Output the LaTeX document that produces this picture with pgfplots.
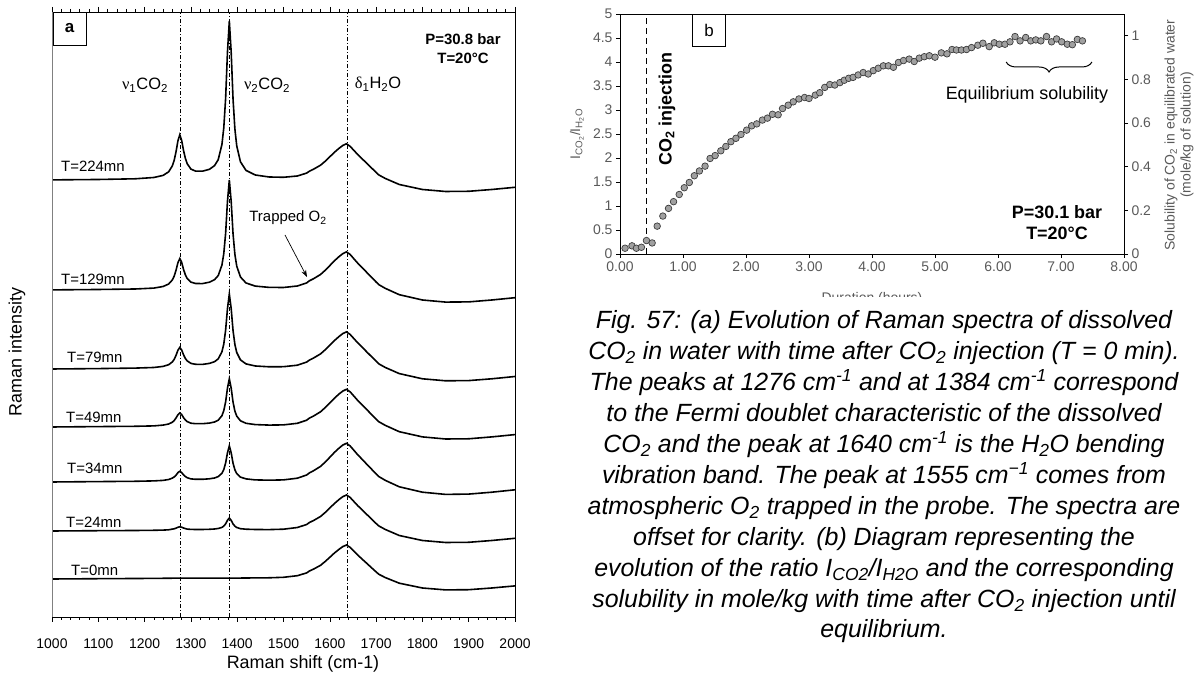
\documentclass[border=0pt]{standalone}
\usepackage{pgfplots}
\pgfplotsset{compat=1.18}
\usepackage{fontspec}
\setmainfont{Liberation Sans}
\newfontfamily\greekfont{Liberation Serif}
\usetikzlibrary{decorations.pathreplacing,arrows.meta}
\definecolor{tickgray}{RGB}{89,89,89}
\definecolor{ptfill}{RGB}{160,160,160}
\definecolor{ptdraw}{RGB}{60,60,60}
\newcommand{\fs}[1]{\fontsize{#1}{#1}\selectfont}
\begin{document}
\begin{tikzpicture}[x=1bp,y=1bp]
\useasboundingbox (0,0) rectangle (1198,678);

%================ Panel a =================
\begin{axis}[at={(52bp,61bp)}, anchor=south west, scale only axis,
  width=463bp, height=605bp,
  xmin=1000, xmax=2000, ymin=0, ymax=605,
  xtick={1000,1100,...,2000}, minor x tick num=4, ytick=\empty,
  tick align=outside, xtick pos=both, xticklabel pos=lower,
  major tick length=5bp, minor tick length=3bp,
  /pgf/number format/1000 sep={}, /pgf/number format/assume math mode=true,
  xticklabel style={font=\fs{14}, yshift=-13bp},
  axis line style={black, line width=0.8bp},
  tick style={black, line width=0.6bp}]
\draw[black, line width=0.7bp, dash pattern=on 4bp off 2bp on 1bp off 2bp] (axis cs:1277,0) -- (axis cs:1277,605);
\draw[black, line width=0.7bp, dash pattern=on 4bp off 2bp on 1bp off 2bp] (axis cs:1382,0) -- (axis cs:1382,605);
\draw[black, line width=0.7bp, dash pattern=on 4bp off 2bp on 1bp off 2bp] (axis cs:1638,0) -- (axis cs:1638,605);
% T=224
\addplot[black, line width=1.6bp] coordinates {(1000,437.1)(1100,437.5)(1180,438.2)(1220,439.5)(1240,441.6)(1252,445.2)(1260,451.2)(1264,456.9)(1268,465.5)(1272,476.2)(1276,482.2)(1280,476.7)(1284,466.7)(1288,458.7)(1292,453.3)(1300,447.9)(1310,445.9)(1325,445.8)(1340,447.7)(1351,451.3)(1359,457.3)(1367,472.5)(1371,489.1)(1375,518.7)(1379,565.1)(1383,596.0)(1387,564.8)(1391,518.0)(1395,488.0)(1399,471.1)(1407,455.2)(1419,446.6)(1439,442.0)(1469,440.0)(1500,439.7)(1530,441.0)(1550,443.9)(1556,445.8)(1565,447.8)(1580,451.8)(1590,455.7)(1600,460.2)(1610,464.7)(1620,468.7)(1628,471.5)(1636,473.2)(1644,470.6)(1652,466.6)(1660,462.6)(1670,458.1)(1680,453.6)(1690,449.1)(1700,444.6)(1706,442.0)(1720,438.5)(1750,432.5)(1800,427.5)(1850,425.5)(1900,425.7)(1950,427.5)(2000,429.7)};
% T=129
\addplot[black, line width=1.6bp] coordinates {(1000,327.1)(1100,327.5)(1180,328.0)(1220,328.9)(1240,330.5)(1252,333.0)(1260,337.1)(1264,341.0)(1268,346.9)(1272,354.3)(1276,358.4)(1280,354.7)(1284,347.7)(1288,342.2)(1292,338.5)(1300,334.9)(1310,333.5)(1325,333.4)(1340,334.8)(1351,337.3)(1359,341.4)(1367,351.9)(1371,363.3)(1375,383.7)(1379,415.7)(1383,437.0)(1387,415.5)(1391,383.3)(1395,362.6)(1399,350.9)(1407,340.0)(1419,334.0)(1439,330.9)(1469,329.6)(1500,329.5)(1530,331.0)(1550,334.1)(1556,336.2)(1565,338.3)(1580,342.5)(1590,346.7)(1600,351.4)(1610,356.2)(1620,360.4)(1628,363.3)(1636,365.1)(1644,362.5)(1652,358.2)(1660,354.0)(1670,349.3)(1680,344.5)(1690,339.7)(1700,335.0)(1706,332.3)(1720,328.6)(1750,322.3)(1800,317.0)(1850,314.9)(1900,315.1)(1950,317.0)(2000,319.3)};
% T=79
\addplot[black, line width=1.6bp] coordinates {(1000,248.0)(1100,248.4)(1180,248.9)(1220,249.5)(1240,250.6)(1252,252.3)(1260,255.1)(1264,257.7)(1268,261.8)(1272,266.8)(1276,269.6)(1280,267.0)(1284,262.3)(1288,258.5)(1292,256.1)(1300,253.6)(1310,252.7)(1325,252.6)(1340,253.6)(1351,255.3)(1359,258.1)(1367,265.2)(1371,272.9)(1375,286.8)(1379,308.5)(1383,323.0)(1387,308.4)(1391,286.5)(1395,272.5)(1399,264.5)(1407,257.1)(1419,253.1)(1439,251.0)(1469,250.2)(1500,250.3)(1530,251.8)(1550,254.9)(1556,256.9)(1565,259.0)(1580,263.1)(1590,267.2)(1600,271.8)(1610,276.4)(1620,280.5)(1628,283.4)(1636,285.1)(1644,282.5)(1652,278.4)(1660,274.3)(1670,269.7)(1680,265.0)(1690,260.4)(1700,255.8)(1706,253.1)(1720,249.5)(1750,243.4)(1800,238.2)(1850,236.2)(1900,236.4)(1950,238.2)(2000,240.5)};
% T=49
\addplot[black, line width=1.6bp] coordinates {(1000,190.0)(1100,190.4)(1180,190.7)(1220,191.1)(1240,191.9)(1252,193.0)(1260,194.8)(1264,196.5)(1268,199.1)(1272,202.3)(1276,204.0)(1280,202.5)(1284,199.4)(1288,197.0)(1292,195.4)(1300,193.8)(1310,193.3)(1325,193.3)(1340,193.9)(1351,195.0)(1359,196.8)(1367,201.3)(1371,206.3)(1375,215.1)(1379,228.9)(1383,238.1)(1387,228.8)(1391,214.9)(1395,205.9)(1399,200.9)(1407,196.2)(1419,193.7)(1439,192.4)(1469,191.9)(1500,192.1)(1530,193.7)(1550,196.8)(1556,198.9)(1565,201.0)(1580,205.2)(1590,209.4)(1600,214.1)(1610,218.8)(1620,223.0)(1628,225.9)(1636,227.7)(1644,225.1)(1652,220.9)(1660,216.7)(1670,212.0)(1680,207.3)(1690,202.6)(1700,197.9)(1706,195.2)(1720,191.6)(1750,185.3)(1800,180.1)(1850,178.0)(1900,178.2)(1950,180.1)(2000,182.4)};
% T=34
\addplot[black, line width=1.6bp] coordinates {(1000,135.0)(1100,135.4)(1180,135.7)(1220,136.1)(1240,136.6)(1252,137.5)(1260,138.9)(1264,140.1)(1268,141.9)(1272,144.4)(1276,145.7)(1280,144.5)(1284,142.2)(1288,140.5)(1292,139.3)(1300,138.1)(1310,137.7)(1325,137.7)(1340,138.2)(1351,139.0)(1359,140.4)(1367,143.7)(1371,147.4)(1375,154.0)(1379,164.2)(1383,171.1)(1387,164.2)(1391,153.8)(1395,147.2)(1399,143.4)(1407,139.9)(1419,138.1)(1439,137.1)(1469,136.8)(1500,137.1)(1530,138.8)(1550,142.0)(1556,144.1)(1565,146.3)(1580,150.6)(1590,154.9)(1600,159.7)(1610,164.6)(1620,168.9)(1628,171.9)(1636,173.7)(1644,171.0)(1652,166.7)(1660,162.4)(1670,157.6)(1680,152.7)(1690,147.9)(1700,143.1)(1706,140.4)(1720,136.6)(1750,130.2)(1800,124.8)(1850,122.6)(1900,122.9)(1950,124.8)(2000,127.2)};
% T=24
\addplot[black, line width=1.6bp] coordinates {(1000,86.0)(1100,86.3)(1180,86.5)(1220,86.7)(1240,86.9)(1252,87.2)(1260,87.9)(1264,88.2)(1268,88.9)(1272,89.7)(1276,90.2)(1280,89.8)(1284,89.0)(1288,88.4)(1292,87.9)(1300,87.6)(1310,87.5)(1325,87.5)(1340,87.7)(1351,88.0)(1359,88.5)(1367,89.6)(1371,90.9)(1375,93.1)(1379,96.7)(1383,99.0)(1387,96.6)(1391,93.1)(1395,90.8)(1399,89.5)(1407,88.3)(1419,87.8)(1439,87.5)(1469,87.4)(1500,87.8)(1530,89.5)(1550,92.5)(1556,94.5)(1565,96.5)(1580,100.5)(1590,104.5)(1600,109.0)(1610,113.5)(1620,117.5)(1628,120.3)(1636,122.0)(1644,119.5)(1652,115.5)(1660,111.5)(1670,107.0)(1680,102.5)(1690,98.0)(1700,93.5)(1706,91.0)(1720,87.5)(1750,81.5)(1800,76.5)(1850,74.5)(1900,74.7)(1950,76.5)(2000,78.7)};
% T=0
\addplot[black, line width=1.6bp] coordinates {(1000,38.0)(1100,38.3)(1180,38.5)(1220,38.6)(1260,38.8)(1300,38.8)(1340,38.9)(1400,38.9)(1439,39.1)(1469,39.2)(1500,39.7)(1530,41.3)(1550,44.1)(1556,46.0)(1565,47.9)(1580,51.7)(1590,55.5)(1600,59.7)(1610,64.0)(1620,67.7)(1628,70.4)(1636,72.0)(1644,69.6)(1652,65.9)(1660,62.1)(1670,57.8)(1680,53.6)(1690,49.3)(1700,45.1)(1706,42.7)(1720,39.4)(1750,33.8)(1800,29.0)(1850,27.1)(1900,27.3)(1950,29.0)(2000,31.1)};
\draw[gray, line width=1.3bp] (rel axis cs:0,0) -- (rel axis cs:0,1);
\end{axis}

% panel a annotations
\node[draw, line width=0.8bp, fill=white, minimum width=33bp, minimum height=33bp, inner sep=0pt, font=\bfseries\fs{17}] at (69.5,649.5) {a};
\node[font=\bfseries\fs{15}] at (463,639) {P=30.8 bar};
\node[font=\bfseries\fs{15}] at (463,620) {T=20°C};
\node[font=\fs{16.5}] at (145,593) {{\greekfont ν}\textsubscript{1}CO\textsubscript{2}};
\node[font=\fs{16.5}] at (267,593) {{\greekfont ν}\textsubscript{2}CO\textsubscript{2}};
\node[font=\fs{16.5}] at (378,594) {{\greekfont δ}\textsubscript{1}H\textsubscript{2}O};
\node[anchor=west, inner sep=0pt, font=\fs{15}] at (61,512) {T=224mn};
\node[anchor=west, inner sep=0pt, font=\fs{15}] at (61,399) {T=129mn};
\node[anchor=west, inner sep=0pt, font=\fs{15}] at (67,321) {T=79mn};
\node[anchor=west, inner sep=0pt, font=\fs{15}] at (66,261) {T=49mn};
\node[anchor=west, inner sep=0pt, font=\fs{15}] at (67,210) {T=34mn};
\node[anchor=west, inner sep=0pt, font=\fs{15}] at (66,156) {T=24mn};
\node[anchor=west, inner sep=0pt, font=\fs{15}] at (71,108) {T=0mn};
\node[font=\fs{15}] at (288,460) {Trapped O\textsubscript{2}};
\draw[-{Stealth[length=7bp,width=5bp]}, line width=0.7bp] (285,443) -- (307,401);
\node[rotate=90, font=\fs{18}] at (17,326) {Raman intensity};
\node[font=\fs{18}] at (303,14) {Raman shift (cm-1)};

%================ Panel b =================
\begin{axis}[at={(620bp,424bp)}, anchor=south west, scale only axis,
  width=504bp, height=240bp,
  xmin=0, xmax=8, ymin=0, ymax=5,
  xtick={0,1,...,8}, ytick={0,0.5,...,5},
  xtick pos=bottom, ytick pos=left, tick align=outside,
  major tick length=4bp,
  /pgf/number format/assume math mode=true,
  xticklabel={\pgfmathprintnumber[fixed,fixed zerofill,precision=2]{\tick}},
  ticklabel style={font=\fs{14}, text=tickgray},
  axis line style={black, line width=0.9bp},
  tick style={black, line width=0.7bp}]
\draw[black, line width=1.3bp, dash pattern=on 6bp off 4bp] (axis cs:0.42,0) -- (axis cs:0.42,5);
\addplot[only marks, mark=*, mark size=3.3bp, mark options={fill=ptfill, draw=ptdraw, line width=0.7bp}] coordinates {(0.08,0.12)(0.19,0.17)(0.26,0.12)(0.34,0.14)(0.42,0.28)(0.51,0.23)(0.59,0.58)(0.68,0.79)(0.77,0.95)(0.85,1.09)(0.94,1.24)(1.02,1.38)(1.10,1.49)(1.18,1.63)(1.26,1.73)(1.35,1.83)(1.43,1.99)(1.51,2.05)(1.60,2.15)(1.68,2.24)(1.76,2.34)(1.84,2.41)(1.92,2.49)(2.01,2.58)(2.09,2.67)(2.17,2.71)(2.26,2.79)(2.34,2.83)(2.42,2.91)(2.51,2.90)(2.58,3.03)(2.67,3.10)(2.75,3.17)(2.84,3.23)(2.93,3.26)(3.00,3.24)(3.10,3.31)(3.17,3.36)(3.25,3.47)(3.33,3.53)(3.41,3.52)(3.49,3.57)(3.56,3.62)(3.63,3.66)(3.70,3.68)(3.78,3.73)(3.86,3.78)(3.94,3.75)(4.02,3.82)(4.10,3.87)(4.18,3.92)(4.26,3.92)(4.34,3.89)(4.42,3.99)(4.50,4.03)(4.59,4.06)(4.67,4.01)(4.75,4.08)(4.83,4.11)(4.91,4.13)(5.00,4.10)(5.10,4.19)(5.19,4.17)(5.27,4.26)(5.34,4.25)(5.42,4.25)(5.50,4.26)(5.58,4.30)(5.68,4.35)(5.76,4.39)(5.86,4.32)(5.94,4.40)(6.02,4.37)(6.11,4.37)(6.19,4.42)(6.27,4.53)(6.35,4.44)(6.44,4.51)(6.52,4.44)(6.60,4.46)(6.68,4.44)(6.77,4.53)(6.85,4.42)(6.93,4.48)(7.01,4.42)(7.10,4.37)(7.18,4.36)(7.26,4.47)(7.34,4.44)};
\draw[decorate, decoration={brace, amplitude=10bp}, line width=1bp] (axis cs:7.49,4.0) -- (axis cs:6.13,4.0);
\end{axis}
\begin{axis}[at={(620bp,424bp)}, anchor=south west, scale only axis,
  width=504bp, height=240bp,
  xmin=0, xmax=8, ymin=0, ymax=1.1,
  axis y line*=right, axis x line=none,
  ytick={0,0.2,0.4,0.6,0.8,1}, tick align=outside, major tick length=4bp,
  /pgf/number format/assume math mode=true,
  ticklabel style={font=\fs{14}, text=tickgray},
  axis line style={black, line width=0.9bp},
  tick style={black, line width=0.7bp}]
\addplot[draw=none] coordinates {(0,0)(8,1)};
\end{axis}

% panel b annotations
\node[draw, line width=0.8bp, fill=white, minimum width=33bp, minimum height=32bp, inner sep=0pt, font=\fs{17}] at (709,648) {b};
\node[rotate=90, font=\bfseries\fs{18}] at (667,569) {CO\textsubscript{2} injection};
\node[font=\fs{18}] at (1027,583) {Equilibrium solubility};
\node[font=\bfseries\fs{18}] at (1057,466) {P=30.1 bar};
\node[font=\bfseries\fs{18}] at (1057,445) {T=20°C};
\node[rotate=90, text=tickgray, font=\fs{14}] at (577,544) {I\textsubscript{CO\textsubscript{2}}/I\textsubscript{H\textsubscript{2}O}};
\node[rotate=90, text=tickgray, align=center, font=\fontsize{14}{16}\selectfont] at (1179,543) {Solubility of CO\textsubscript{2} in equilibrated water\\(mole/kg of solution)};
\node[text=tickgray, font=\fs{14}] at (872,379) {Duration (hours)};

% caption
\fill[white] (545,0) rectangle (1198,381);
\begin{scope}[every node/.style={anchor=base, inner sep=0pt, font=\itshape\fs{25}}]
\node at (884,349) {Fig. 57: (a) Evolution of Raman spectra of dissolved};
\node at (884,318) {CO\textsubscript{2} in water with time after CO\textsubscript{2} injection (T = 0 min).};
\node at (884,287) {The peaks at 1276 cm\textsuperscript{-1} and at 1384 cm\textsuperscript{-1} correspond};
\node at (884,256) {to the Fermi doublet characteristic of the dissolved};
\node at (884,225) {CO\textsubscript{2} and the peak at 1640 cm\textsuperscript{-1} is the H\textsubscript{2}O bending};
\node at (884,194) {vibration band. The peak at 1555 cm\textsuperscript{−1} comes from};
\node at (884,163) {atmospheric O\textsubscript{2} trapped in the probe. The spectra are};
\node at (884,132) {offset for clarity. (b) Diagram representing the};
\node at (884,101) {evolution of the ratio I\textsubscript{CO2}/I\textsubscript{H2O} and the corresponding};
\node at (884,70) {solubility in mole/kg with time after CO\textsubscript{2} injection until};
\node at (884,40) {equilibrium.};
\end{scope}
\end{tikzpicture}
\end{document}
